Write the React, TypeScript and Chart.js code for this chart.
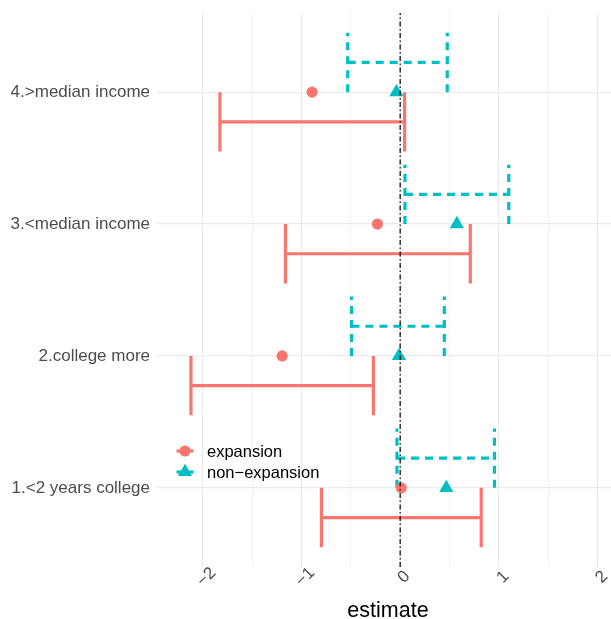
import React, { useEffect, useRef } from "react";
import { Chart, registerables } from "chart.js";

Chart.register(...registerables);

// ---- data ----
const categories = [
  "1.<2 years college",
  "2.college more",
  "3.<median income",
  "4.>median income",
];
const expansionEst = [0.012, -1.195, -0.23, -0.892];
const expansionLo = [-0.797, -2.118, -1.161, -1.825];
const expansionHi = [0.821, -0.271, 0.71, 0.045];
const nonExpansionEst = [0.467, -0.012, 0.574, -0.038];
const nonExpansionLo = [-0.032, -0.493, 0.049, -0.531];
const nonExpansionHi = [0.955, 0.447, 1.1, 0.477];
const xTickValues = [-2, -1, 0, 1, 2];
const seriesNames = ["expansion", "non\u2212expansion"];

// ---- style ----
const RED = "#F8766D";
const CYAN = "#00BFC4";
const FONT = "'Liberation Sans', Arial, Helvetica, sans-serif";
const X_MIN = -2.462;
const X_MAX = 2.135;
const Y_MIN = 0.4;
const Y_MAX = 4.6;
const DODGE = 0.225;
const W = 611;
const H = 619;

const GAP = { x: NaN, y: NaN };

function errorbarPoints(lo: number[], hi: number[], offset: number) {
  const pts: { x: number; y: number }[] = [];
  lo.forEach((l, i) => {
    const c = i + 1;
    const h = hi[i];
    const ym = c + offset;
    const y1 = c + 2 * offset;
    pts.push({ x: l, y: c }, { x: l, y: y1 }, GAP);
    pts.push({ x: l, y: ym }, { x: h, y: ym }, GAP);
    pts.push({ x: h, y: c }, { x: h, y: y1 }, GAP);
  });
  return pts;
}

const fmt = (v: number) => (v < 0 ? "\u2212" + Math.abs(v) : String(v));

export default function App() {
  const ref = useRef<HTMLCanvasElement | null>(null);

  useEffect(() => {
    if (!ref.current) return;
    document.body.style.margin = "0";
    document.body.style.overflow = "hidden";

    const gridValues: number[] = [];
    xTickValues.forEach((v, i) => {
      gridValues.push(v);
      if (i < xTickValues.length - 1) gridValues.push((v + xTickValues[i + 1]) / 2);
    });

    const overlay = {
      id: "overlay",
      afterDraw(chart: any) {
        const ctx = chart.ctx as CanvasRenderingContext2D;
        const xs = chart.scales.x;
        const area = chart.chartArea;
        ctx.save();
        // x tick labels, rotated 45deg
        ctx.fillStyle = "#4D4D4D";
        ctx.font = `17px ${FONT}`;
        ctx.textAlign = "center";
        ctx.textBaseline = "middle";
        xTickValues.forEach((v) => {
          const px = xs.getPixelForValue(v);
          ctx.save();
          ctx.translate(px + 4, 577);
          ctx.rotate(-Math.PI / 4);
          ctx.fillText(fmt(v), 0, 0);
          ctx.restore();
        });
        // x title
        ctx.fillStyle = "#000000";
        ctx.font = `21.5px ${FONT}`;
        ctx.textBaseline = "alphabetic";
        ctx.fillText("estimate", (area.left + area.right) / 2 + 4, 617);

        // legend
        const keys = [
          { color: RED, shape: "circle", y: 451 },
          { color: CYAN, shape: "triangle", y: 472 },
        ];
        keys.forEach((k, i) => {
          const cx = 185;
          ctx.strokeStyle = k.color;
          ctx.fillStyle = k.color;
          ctx.lineWidth = 3.2;
          ctx.beginPath();
          ctx.moveTo(cx - 8.5, k.y);
          ctx.lineTo(cx + 8.5, k.y);
          ctx.stroke();
          ctx.beginPath();
          if (k.shape === "circle") {
            ctx.arc(cx, k.y, 5.6, 0, Math.PI * 2);
          } else {
            const r = 8.2;
            ctx.moveTo(cx, k.y - r);
            ctx.lineTo(cx + r * Math.sin((2 * Math.PI) / 3), k.y - r * Math.cos((2 * Math.PI) / 3));
            ctx.lineTo(cx + r * Math.sin((4 * Math.PI) / 3), k.y - r * Math.cos((4 * Math.PI) / 3));
            ctx.closePath();
          }
          ctx.fill();
          ctx.fillStyle = "#000000";
          ctx.font = `16.5px ${FONT}`;
          ctx.textAlign = "left";
          ctx.textBaseline = "middle";
          ctx.fillText(seriesNames[i], 207, k.y + 1);
        });
        ctx.restore();
      },
    };

    const chart = new Chart(ref.current, {
      type: "scatter",
      data: {
        datasets: [
          {
            label: "zero",
            data: [
              { x: 0, y: Y_MIN },
              { x: 0, y: Y_MAX },
            ],
            showLine: true,
            borderColor: "#000000",
            borderWidth: 1.2,
            borderDash: [5, 2.5, 1.5, 2.5],
            pointRadius: 0,
          },
          {
            label: seriesNames[0],
            data: expansionEst.map((v, i) => ({ x: v, y: i + 1 })),
            pointStyle: "circle",
            pointRadius: 5.6,
            pointBorderWidth: 0,
            backgroundColor: RED,
            borderColor: RED,
          },
          {
            label: seriesNames[1],
            data: nonExpansionEst.map((v, i) => ({ x: v, y: i + 1 })),
            pointStyle: "triangle",
            pointRadius: 8.2,
            pointBorderWidth: 0,
            backgroundColor: CYAN,
            borderColor: CYAN,
          },
          {
            label: "expansion CI",
            data: errorbarPoints(expansionLo, expansionHi, -DODGE),
            showLine: true,
            spanGaps: false,
            borderColor: RED,
            borderWidth: 3.2,
            pointRadius: 0,
          },
          {
            label: "non-expansion CI",
            data: errorbarPoints(nonExpansionLo, nonExpansionHi, DODGE),
            showLine: true,
            spanGaps: false,
            borderColor: CYAN,
            borderWidth: 3.2,
            borderDash: [8, 6],
            pointRadius: 0,
          },
        ],
      },
      options: {
        animation: false,
        responsive: false,
        maintainAspectRatio: false,
        devicePixelRatio: 1,
        layout: { autoPadding: false, padding: { top: 13, right: 0, left: 0, bottom: 0 } },
        plugins: {
          legend: { display: false },
          tooltip: { enabled: false },
        },
        scales: {
          x: {
            type: "linear",
            min: X_MIN,
            max: X_MAX,
            afterBuildTicks: (scale: any) => {
              scale.ticks = gridValues.map((v) => ({ value: v }));
            },
            afterFit: (scale: any) => {
              scale.height = 52;
              scale.paddingLeft = 0;
              scale.paddingRight = 0;
              scale.paddingTop = 0;
              scale.paddingBottom = 0;
            },
            ticks: { display: false },
            border: { display: false },
            grid: {
              drawTicks: false,
              color: "#EBEBEB",
              lineWidth: (c: any) => (Number.isInteger(c.tick?.value) ? 1.2 : 0.6),
            },
          },
          y: {
            type: "linear",
            min: Y_MIN,
            max: Y_MAX,
            afterBuildTicks: (scale: any) => {
              scale.ticks = categories.map((_, i) => ({ value: i + 1 }));
            },
            afterFit: (scale: any) => {
              scale.width = 157;
              scale.paddingLeft = 0;
              scale.paddingRight = 0;
              scale.paddingTop = 0;
              scale.paddingBottom = 0;
            },
            ticks: {
              padding: 7,
              color: "#4D4D4D",
              font: { family: FONT, size: 17 },
              callback: (v: any) => categories[Math.round(Number(v)) - 1] ?? "",
            },
            border: { display: false },
            grid: { drawTicks: false, color: "#EBEBEB", lineWidth: 1.2 },
          },
        },
      },
      plugins: [overlay],
    } as any);

    return () => chart.destroy();
  }, []);

  return (
    <div style={{ position: "fixed", left: 0, top: 0, width: W, height: H, overflow: "hidden", background: "#fff" }}>
      <canvas ref={ref} width={W} height={H} style={{ display: "block", width: W, height: H }} />
    </div>
  );
}
